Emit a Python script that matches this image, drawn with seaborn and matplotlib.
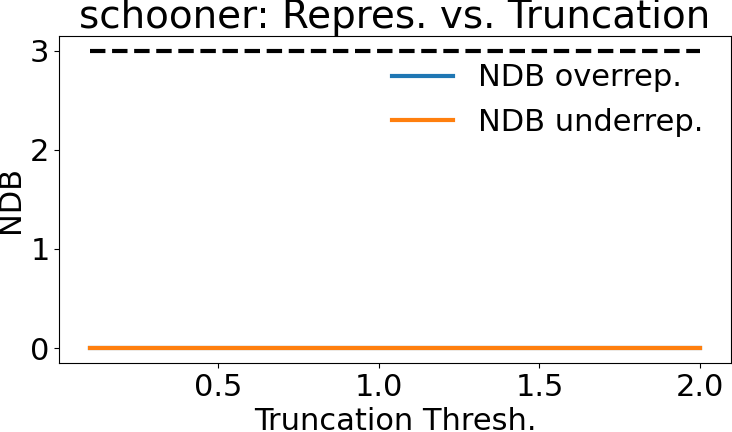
import numpy as np
import pandas as pd
import matplotlib
matplotlib.use("Agg")
import matplotlib.pyplot as plt
import seaborn as sns

# truncation thresholds and NDB values
thresh = [0.1, 0.2, 0.3, 0.4, 0.5, 0.6, 0.7, 0.8, 0.9, 1.0,
          1.1, 1.2, 1.3, 1.4, 1.5, 1.6, 1.7, 1.8, 1.9, 2.0]
ndb_over = [0] * 20
ndb_under = [0] * 20
ndb_ref = [3] * 20

df = pd.DataFrame({"thresh": thresh, "over": ndb_over,
                   "under": ndb_under, "ref": ndb_ref})

plt.rcParams['font.family'] = ['DejaVu Sans']
fig, ax = plt.subplots(figsize=(7.32, 4.32), dpi=100)

sns.lineplot(data=df, x="thresh", y="ref", ax=ax, color="black",
             linestyle="--", linewidth=3)
sns.lineplot(data=df, x="thresh", y="over", ax=ax, color="#1f77b4",
             linewidth=3, label="NDB overrep.")
sns.lineplot(data=df, x="thresh", y="under", ax=ax, color="#ff7f0e",
             linewidth=3, label="NDB underrep.")

ax.set_title("schooner: Repres. vs. Truncation", fontsize=28)
ax.set_xlabel("Truncation Thresh.", fontsize=22)
ax.set_ylabel("NDB", fontsize=22)
ax.set_xticks([0.5, 1.0, 1.5, 2.0])
ax.set_yticks([0, 1, 2, 3])
ax.tick_params(labelsize=22)
ax.legend(frameon=False, fontsize=22, loc="upper right")

plt.subplots_adjust(left=0.081, right=0.998, top=0.917, bottom=0.16)
plt.savefig("out.png")
